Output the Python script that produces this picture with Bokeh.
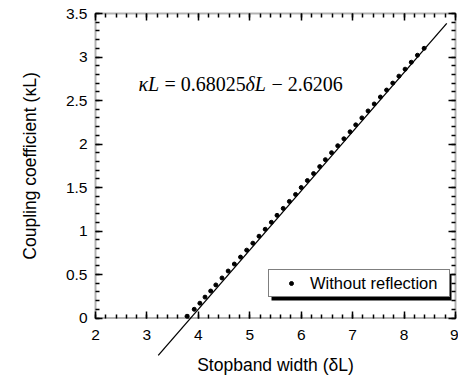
from bokeh.plotting import figure
from bokeh.models import (Range1d, LinearAxis, FixedTicker, NumeralTickFormatter,
                          Legend, LegendItem, Label, BoxAnnotation)
from bokeh.embed import file_html
from bokeh.resources import INLINE

# ---- data ----
delta_L = [3.78, 3.92, 4.03, 4.13, 4.24, 4.34, 4.46, 4.58, 4.70, 4.82,
           4.94, 5.06, 5.18, 5.30, 5.42, 5.53, 5.65, 5.77, 5.89, 6.00,
           6.12, 6.24, 6.36, 6.47, 6.59, 6.71, 6.83, 6.95, 7.06, 7.18,
           7.30, 7.42, 7.54, 7.66, 7.78, 7.90, 8.02, 8.14, 8.26, 8.39]
kappa_L = [0.02, 0.10, 0.17, 0.24, 0.31, 0.38, 0.46, 0.54, 0.62, 0.70,
           0.78, 0.86, 0.94, 1.02, 1.10, 1.18, 1.26, 1.34, 1.42, 1.50,
           1.58, 1.66, 1.74, 1.82, 1.90, 1.98, 2.06, 2.14, 2.22, 2.30,
           2.38, 2.46, 2.54, 2.62, 2.70, 2.78, 2.86, 2.94, 3.02, 3.10]
fit_slope = 0.68025
fit_intercept = -2.6206
fit_x = [3.22, 8.83]
fit_y = [fit_slope * v + fit_intercept for v in fit_x]

x_major = [2, 3, 4, 5, 6, 7, 8, 9]
y_major = [0, 0.5, 1, 1.5, 2, 2.5, 3, 3.5]
x_minor = [round(2 + 0.2 * i, 2) for i in range(36)]
y_minor = [round(0.1 * i, 2) for i in range(36)]
X0, X1, Y0, Y1 = 2, 9, 0, 3.5

series_label = "Without reflection"
x_title = "Stopband width (δL)"
y_title = "Coupling coefficient (κL)"

# ---- layout (pixels) ----
W, H = 458, 375
BOX_L, BOX_R, BOX_T = 95, 455, 13
Y0_PX = 317.5
xs = (BOX_R - BOX_L) / (X1 - X0)
ys = (Y0_PX - BOX_T) / (Y1 - Y0)

def px2x(px):
    return X0 + (px - BOX_L) / xs
def py2y(py):
    return Y0 + (Y0_PX - py) / ys

p = figure(width=W, height=H, output_backend="svg", toolbar_location=None,
           x_range=Range1d(px2x(0), px2x(W)),
           y_range=Range1d(py2y(H), py2y(0)),
           min_border=0)
p.outline_line_color = None
p.grid.visible = False
p.background_fill_color = "white"
p.border_fill_color = "white"

SANS = "Liberation Sans"

def style_ticks(ax):
    ax.axis_line_color = None
    ax.major_tick_in = 7
    ax.major_tick_out = 0
    ax.minor_tick_in = 4
    ax.minor_tick_out = 0
    ax.major_tick_line_width = 1.5
    ax.minor_tick_line_width = 1.5
    ax.major_tick_line_color = "black"
    ax.minor_tick_line_color = "black"

xa = p.xaxis[0]
xa.fixed_location = Y0
xa.bounds = (X0, X1)
xa.ticker = FixedTicker(ticks=x_major, minor_ticks=x_minor)
style_ticks(xa)
xa.major_label_text_font = SANS
xa.major_label_text_font_size = "15.5px"
xa.major_label_text_color = "black"
xa.major_label_standoff = 12
xa.axis_label = x_title
xa.axis_label_text_font = SANS
xa.axis_label_text_font_size = "17.5px"
xa.axis_label_text_font_style = "normal"
xa.axis_label_text_color = "black"
xa.axis_label_standoff = 11

ya = p.yaxis[0]
ya.fixed_location = X0
ya.bounds = (Y0, Y1)
ya.ticker = FixedTicker(ticks=y_major, minor_ticks=y_minor)
ya.formatter = NumeralTickFormatter(format="0.[0]")
style_ticks(ya)
ya.major_label_text_font = SANS
ya.major_label_text_font_size = "15.5px"
ya.major_label_text_color = "black"
ya.major_label_standoff = 8
ya.axis_label = y_title
ya.axis_label_text_font = SANS
ya.axis_label_text_font_size = "17.5px"
ya.axis_label_text_font_style = "normal"
ya.axis_label_text_color = "black"
ya.axis_label_standoff = 23

for side, tk, loc, bnd in (
        ("above", FixedTicker(ticks=x_major, minor_ticks=x_minor), Y1, (X0, X1)),
        ("right", FixedTicker(ticks=y_major, minor_ticks=y_minor), X1, (Y0, Y1))):
    ax = LinearAxis(ticker=tk, fixed_location=loc, bounds=bnd)
    style_ticks(ax)
    ax.major_label_text_font_size = "1px"
    ax.major_label_text_alpha = 0
    ax.major_label_standoff = 0
    p.add_layout(ax, side)

# plot box
p.add_layout(BoxAnnotation(left=X0, right=X1, bottom=Y0, top=Y1,
                           fill_alpha=0, line_color="black", line_width=2))

p.line(fit_x, fit_y, line_color="black", line_width=1.3)
r = p.scatter(delta_L, kappa_L, size=4, marker="circle",
              fill_color="black", line_color="black")

# legend with shadow
LEG_L, LEG_B = 268, 297   # fig px (left, bottom)
LEG_W, LEG_H = 180, 26
p.add_layout(BoxAnnotation(left=px2x(LEG_L + 3), right=px2x(LEG_L + LEG_W + 3),
                           bottom=py2y(LEG_B + 3), top=py2y(LEG_B - LEG_H + 3),
                           fill_color="black", fill_alpha=1, line_color=None))
leg = Legend(items=[LegendItem(label=series_label, renderers=[r])],
             location=(LEG_L, H - LEG_B))
leg.padding = 3
leg.margin = 0
leg.spacing = 0
leg.glyph_width = 38
leg.glyph_height = 10
leg.label_standoff = 0
leg.label_width = 136
leg.label_height = 20
leg.label_text_font = SANS
leg.label_text_font_size = "16.5px"
leg.label_text_color = "black"
leg.border_line_color = "black"
leg.border_line_width = 1.5
leg.background_fill_color = "white"
leg.background_fill_alpha = 1
p.add_layout(leg)

# equation
SERIF = "Liberation Serif"
eq_x, eq_y = px2x(138), py2y(83)
for txt, off, style in (("κL", 0, "italic"), ("= 0.68025", 26, "normal"),
                        ("δL", 107, "italic"), ("− 2.6206", 133, "normal")):
    p.add_layout(Label(x=eq_x, y=eq_y, x_offset=off, text=txt,
                       text_font=SERIF, text_font_size="20px",
                       text_font_style=style, text_color="black",
                       text_baseline="alphabetic", text_align="left"))

open("out.html", "w").write(file_html(p, INLINE))
